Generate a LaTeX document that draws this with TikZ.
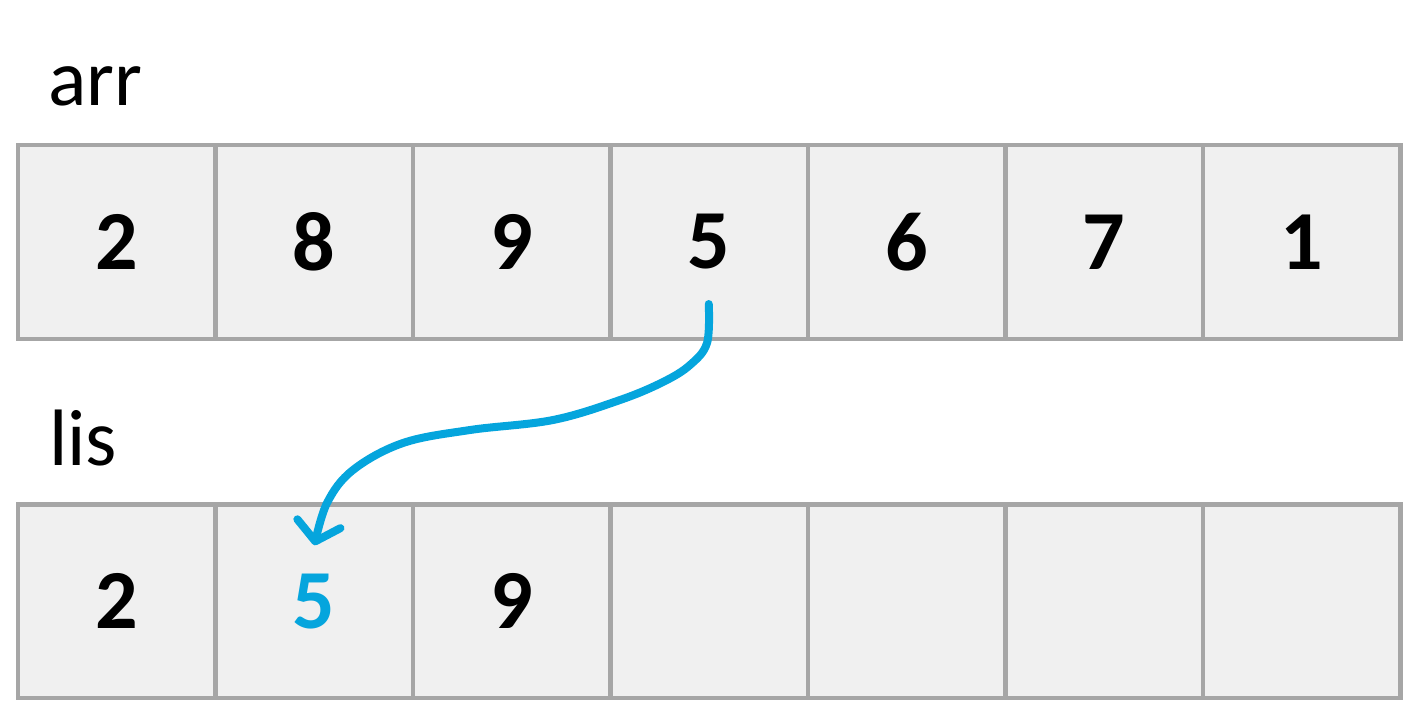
\documentclass[tikz,border=0pt]{standalone}
\usepackage{fontspec}
\setmainfont{Carlito}
\usetikzlibrary{arrows.meta}
\definecolor{cellgray}{HTML}{A6A6A6}
\definecolor{cellfill}{HTML}{F0F0F0}
\definecolor{arrblue}{HTML}{05A5DD}
\tikzset{
  cell/.style={draw=cellgray, fill=cellfill, line width=4.5pt, minimum width=197.5pt, minimum height=194pt, inner sep=0pt, outer sep=0pt, font=\fontsize{84}{84}\selectfont\bfseries},
  lbl/.style={anchor=base west, inner sep=0pt, font=\fontsize{80}{80}\selectfont},
  flow/.style={draw=arrblue, line width=8pt, line cap=round, line join=round, -{Straight Barb[length=18pt, width=44pt, line cap=round, line join=round]}}
}
\begin{document}
\begin{tikzpicture}[x=1pt, y=-1pt]
\useasboundingbox (0,0) rectangle (1407,705);
\node[lbl] (arrlbl) at (48,105) {arr};
\node[lbl] (lislbl) at (49,465) {lis};
\foreach \v [count=\i] in {2,8,9,5,6,7,1} {
  \node[cell] (a\i) at ({18+197.5*(\i-0.5)},242) {\v};
}
\foreach \v [count=\i] in {2,{\textcolor{arrblue}{5}},9,{},{},{},{}} {
  \node[cell, minimum height=193.5pt] (b\i) at ({18+197.5*(\i-0.5)},601.25) {\v};
}
\coordinate (s) at ([xshift=-0.5pt,yshift=-62pt]a4.center);
\coordinate (e) at ([xshift=0.25pt,yshift=56pt]b2.center);
\draw[flow] plot[smooth, tension=0.6] coordinates {(s) (707,343) (690,365) (663,382) (620,400) (553,420) (470,430) (403,443) (353,470) (327,503) (e)};
\end{tikzpicture}
\end{document}
